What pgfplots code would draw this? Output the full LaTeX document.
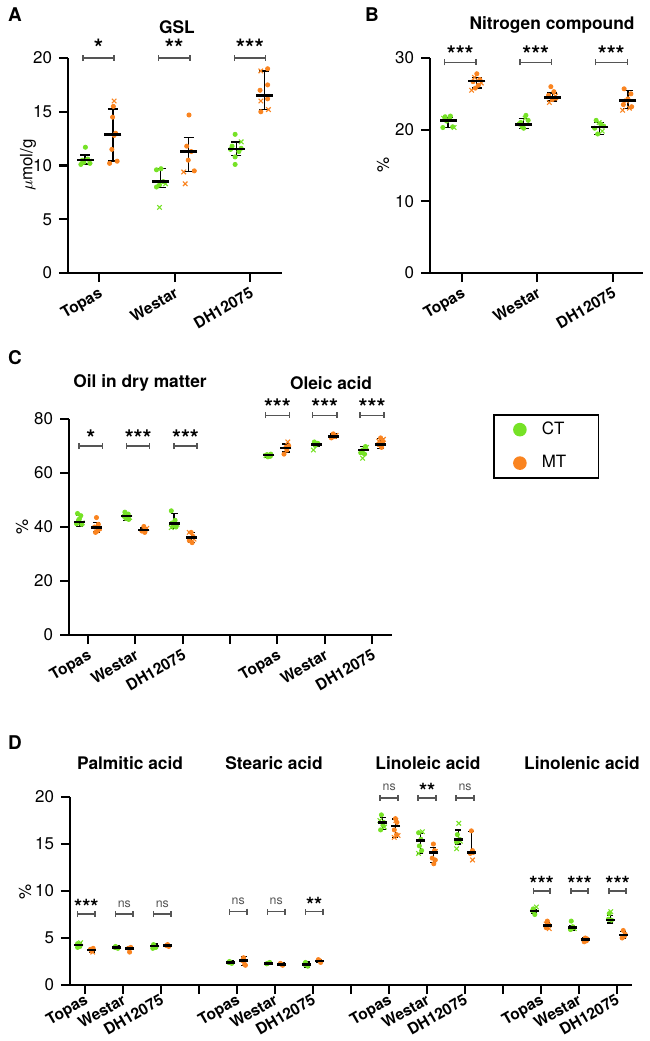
\documentclass[border=0pt]{standalone}
\usepackage{pgfplots}
\pgfplotsset{compat=1.18}
\usepackage{pgfplotstable}
\usepackage{fontspec}
\setmainfont{TeX Gyre Heros}
\usetikzlibrary{arrows.meta}

\definecolor{ctg}{RGB}{118,226,38}
\definecolor{mto}{RGB}{250,132,32}
\definecolor{sigc}{RGB}{85,85,85}
\newcommand\fs[1]{\fontsize{#1}{#1}\selectfont}

% mean and error bar of each group: x, mean, +err, -err
\pgfplotstableread{
x y ep em
-0.185 10.5 0.48 0.36
0.815 8.5 1.24 0.56
1.815 11.53 0.67 0.63
}\Act
\pgfplotstableread{
x y ep em
0.185 12.9 2.36 2.48
1.185 11.28 1.3 1.86
2.185 16.5 2.3 1.3
}\Amt
\pgfplotstableread{
x y ep em
-0.18 21.25 0.45 0.95
0.82 20.7 0.9 0.5
1.82 20.4 0.6 1.1
}\Bct
\pgfplotstableread{
x y ep em
0.2 26.8 0.5 1.0
1.2 24.5 0.6 0.5
2.2 24.1 1.4 1.1
}\Bmt
\pgfplotstableread{
x y ep em
-0.18 41.8 2.6 1.7
0.82 44.1 1.3 1.7
1.82 41.3 3.7 1.7
3.82 66.6 0.5 0.7
4.82 70.6 0.7 0.8
5.82 68.5 1.2 1.5
}\Cct
\pgfplotstableread{
x y ep em
0.18 39.8 1.9 1.7
1.18 38.9 0.7 0.9
2.18 36.1 1.9 1.9
4.18 69.2 1.6 1.4
5.18 73.6 0.8 0.8
6.18 70.6 2.2 1.5
}\Cmt
\pgfplotstableread{
x y ep em
-0.17 4.26 0.2 0.25
0.83 3.97 0.2 0.2
1.83 4.15 0.2 0.2
3.83 2.42 0.2 0.2
4.83 2.3 0.1 0.1
5.83 2.2 0.25 0.3
7.83 17.27 0.57 0.71
8.83 15.35 0.78 1.35
9.83 15.5 0.99 0.5
11.83 7.87 0.2 0.2
12.83 6.1 0.25 0.25
13.83 6.9 0.5 0.3
}\Dct
\pgfplotstableread{
x y ep em
0.17 3.72 0.2 0.2
1.17 3.9 0.15 0.15
2.17 4.2 0.12 0.12
4.17 2.6 0.4 0.5
5.17 2.2 0.15 0.15
6.17 2.55 0.15 0.15
8.17 16.91 0.75 1.2
9.17 14.11 0.54 1.06
10.17 14.08 2.27 0.1
12.17 6.31 0.35 0.3
13.17 4.86 0.2 0.2
14.17 5.32 0.35 0.35
}\Dmt

\pgfplotsset{
  panel/.style={
    scale only axis, anchor=south west,
    axis x line*=bottom, axis y line*=left,
    axis line style={line width=1.1pt, black},
    tick align=outside, major tick length=4.5bp,
    tick style={line width=1.1pt, black},
    yticklabel style={font=\fs{8.5}},
    xticklabel style={font=\fs{7.8}\bfseries, rotate=30, anchor=north east, inner sep=1.5bp},
    /pgf/number format/assume math mode=true,
    clip=false, enlargelimits=false,
  },
  ctdot/.style={only marks, mark=*, mark size=1.05bp, color=ctg},
  ctx/.style={only marks, mark=x, mark size=1.6bp, color=ctg, mark options={line width=0.55pt}},
  mtdot/.style={only marks, mark=*, mark size=1.05bp, color=mto},
  mtx/.style={only marks, mark=x, mark size=1.6bp, color=mto, mark options={line width=0.55pt}},
  meansd/.style 2 args={only marks, black, mark=-, mark size=#1,
    mark options={line width=1.3pt},
    /pgfplots/error bars/y dir=both, /pgfplots/error bars/y explicit,
    /pgfplots/error bars/error bar style={line width=0.65pt, black},
    /pgfplots/error bars/error mark options={rotate=90, mark size=#2, line width=0.65pt, black}},
}
\tikzset{
  sigline/.style={draw=sigc, line width=0.7pt, {Bar[width=3bp]}-{Bar[width=3bp]}},
  stA/.style={font=\fs{12}\bfseries, yshift=0.6bp},
  stC/.style={font=\fs{11.5}\bfseries, yshift=0bp},
  stD/.style={font=\fs{10.5}\bfseries, yshift=-0.3bp},
  nsD/.style={font=\fs{6.2}, text=sigc, yshift=3.5bp},
}
\newcommand\sigbar[5]{\draw[sigline] (axis cs:#1,#3) -- (axis cs:#2,#3) node[midway, anchor=base, inner sep=0pt, #4]{#5};}

\begin{document}
\begin{tikzpicture}
\path[use as bounding box] (0,0) rectangle (325bp,-520.5bp);

% ---------- A: GSL
\begin{axis}[panel, at={(34bp,-136.5bp)}, width=107bp, height=107.5bp,
  xmin=-0.41, xmax=2.42, ymin=0, ymax=20, ytick={0,5,10,15,20},
  xtick={0,1,2}, xticklabels={Topas,Westar,DH12075}]
\addplot[ctdot] coordinates {(-0.24,10.1) (-0.2,10.3) (-0.15,10.6) (-0.18,11.7) (-0.12,10.2) (-0.22,10.5)
  (0.76,9.6) (0.82,9.7) (0.8,8.2) (0.76,8.0) (0.85,8.5)
  (1.8,12.9) (1.76,11.8) (1.85,11.3) (1.74,11.5) (1.8,10.8) (1.8,10.1) (1.88,11.6)};
\addplot[ctx] coordinates {(-0.12,10.4) (0.8,6.1) (0.88,8.3) (1.88,12.2)};
\addplot[mtdot] coordinates {(0.19,15.5) (0.18,14.5) (0.22,13.0) (0.17,11.5) (0.24,10.4) (0.14,10.2) (0.2,12.8)
  (1.19,14.7) (1.16,11.8) (1.22,11.3) (1.26,9.5) (1.18,10.5)
  (2.23,19.0) (2.13,17.0) (2.23,17.5) (2.23,16.2) (2.14,15.0)};
\addplot[mtx] coordinates {(0.2,16.0) (1.12,9.4) (1.14,8.3) (2.14,18.8) (2.14,16.0) (2.24,15.2)};
\addplot[meansd={4.25bp}{2.5bp}] table[x=x, y=y, y error plus=ep, y error minus=em] {\Act};
\addplot[meansd={4.25bp}{2.5bp}] table[x=x, y=y, y error plus=ep, y error minus=em] {\Amt};
\sigbar{-0.22}{0.21}{20}{stA}{*}
\sigbar{0.78}{1.21}{20}{stA}{**}
\sigbar{1.78}{2.21}{20}{stA}{***}
\end{axis}

% ---------- B: Nitrogen compound
\begin{axis}[panel, at={(215bp,-136.5bp)}, width=106.5bp, height=107.5bp,
  xmin=-0.42, xmax=2.4, ymin=0, ymax=30, ytick={0,10,20,30},
  xtick={0,1,2}, xticklabels={Topas,Westar,DH12075}]
\addplot[ctdot] coordinates {(-0.22,21.8) (-0.15,21.9) (-0.25,20.3) (-0.12,20.4) (-0.2,21.2) (-0.16,21.5)
  (0.78,21.0) (0.85,22.0) (0.8,20.4) (0.76,20.8) (0.88,21.3) (0.82,20.2)
  (1.78,21.3) (1.84,20.8) (1.76,20.2) (1.8,19.4) (1.88,20.5)};
\addplot[ctx] coordinates {(-0.24,21.6) (-0.1,20.3) (0.84,21.6) (1.82,21.0) (1.86,19.8)};
\addplot[mtdot] coordinates {(0.2,27.8) (0.24,27.0) (0.15,26.7) (0.22,26.2) (0.18,25.8)
  (1.18,26.0) (1.22,25.3) (1.15,24.8) (1.25,24.4) (1.2,24.2)
  (2.15,25.7) (2.24,25.0) (2.2,24.3) (2.14,23.5) (2.25,23.2)};
\addplot[mtx] coordinates {(0.13,25.5) (0.26,26.5) (0.17,27.3) (1.16,23.8) (1.24,24.7) (2.13,22.7) (2.22,23.0) (2.18,24.0)};
\addplot[meansd={4.25bp}{2.5bp}] table[x=x, y=y, y error plus=ep, y error minus=em] {\Bct};
\addplot[meansd={4.25bp}{2.5bp}] table[x=x, y=y, y error plus=ep, y error minus=em] {\Bmt};
\sigbar{-0.24}{0.2}{29.4}{stC}{***}
\sigbar{0.76}{1.2}{29.4}{stC}{***}
\sigbar{1.76}{2.2}{29.4}{stC}{***}
\end{axis}

% ---------- C: oil and oleic acid
\begin{axis}[panel, at={(34.5bp,-317.5bp)}, width=161.5bp, height=108bp,
  xmin=-0.4, xmax=6.42, ymin=0, ymax=80, ytick={0,20,40,60,80},
  xtick={0,...,6}, xticklabels={Topas,Westar,DH12075,,Topas,Westar,DH12075},
  legend style={at={(1.313,1.023)}, anchor=north west, draw=black, line width=0.8pt,
    font=\fs{8.5}, inner xsep=10bp, inner ysep=1.5bp, row sep=5bp,
    /tikz/every odd column/.style={column sep=6bp}},
  legend cell align=left]
\addlegendimage{only marks, mark=*, mark size=3bp, color=ctg}
\addlegendimage{only marks, mark=*, mark size=3bp, color=mto}
\legend{CT\hspace*{4bp},MT\hspace*{4bp}}
\addplot[ctdot, forget plot] coordinates {(-0.22,45.0) (-0.15,44.2) (-0.2,42.5) (-0.13,41.0) (-0.24,41.2) (-0.18,43.0)
  (0.78,45.5) (0.85,44.8) (0.8,43.2) (0.86,42.8) (0.76,44.0)
  (1.76,46.0) (1.84,42.5) (1.8,40.5) (1.86,40.0) (1.78,41.5)
  (3.78,66.8) (3.85,66.2) (3.8,66.0) (3.86,67.0)
  (4.78,71.5) (4.85,71.0) (4.8,70.2) (4.86,70.8)
  (5.86,69.8) (5.8,68.5) (5.76,67.5) (5.84,67.0)};
\addplot[ctx, forget plot] coordinates {(-0.12,41.5) (0.88,43.5) (1.76,39.8) (1.88,41.0) (3.76,66.4) (4.76,68.5) (5.8,65.5) (5.88,69.5)};
\addplot[mtdot, forget plot] coordinates {(0.18,43.5) (0.22,41.0) (0.14,40.0) (0.2,38.5) (0.24,39.2) (0.16,38.0)
  (1.18,40.2) (1.22,39.0) (1.14,38.5) (1.2,38.0)
  (2.18,38.0) (2.22,36.5) (2.14,35.0) (2.2,34.2)
  (4.14,67.0) (4.2,68.5) (4.24,70.0) (4.18,69.5)
  (5.18,74.5) (5.22,73.5) (5.14,73.0)
  (6.18,73.0) (6.22,71.5) (6.14,70.5) (6.2,69.5)};
\addplot[mtx, forget plot] coordinates {(0.24,39.5) (1.24,39.5) (2.14,38.0) (2.24,35.5) (4.22,71.5) (5.24,74.0) (6.24,72.5) (6.14,71.8)};
\addplot[meansd={2.75bp}{1.8bp}, forget plot] table[x=x, y=y, y error plus=ep, y error minus=em] {\Cct};
\addplot[meansd={2.75bp}{1.8bp}, forget plot] table[x=x, y=y, y error plus=ep, y error minus=em] {\Cmt};
\sigbar{-0.2}{0.32}{70}{stC}{*}
\sigbar{0.8}{1.32}{70}{stC}{***}
\sigbar{1.8}{2.32}{70}{stC}{***}
\sigbar{3.73}{4.27}{81.4}{stC}{***}
\sigbar{4.73}{5.27}{81.4}{stC}{***}
\sigbar{5.73}{6.27}{81.4}{stC}{***}
\end{axis}

% ---------- D: fatty acids
\begin{axis}[panel, at={(35bp,-492.5bp)}, width=281bp, height=94bp,
  xmin=-0.4, xmax=14.4, ymin=0, ymax=20, ytick={0,5,10,15,20},
  xtick={0,...,14}, xticklabel style={inner sep=0.5bp, yshift=1.5bp},
  xticklabels={Topas,Westar,DH12075,,Topas,Westar,DH12075,,Topas,Westar,DH12075,,Topas,Westar,DH12075}]
\addplot[ctdot] coordinates {(-0.2,4.4) (-0.14,4.1) (-0.2,4.0) (-0.16,4.3)
  (0.8,4.1) (0.86,3.9) (0.78,4.0) (1.8,4.3) (1.86,4.0) (1.78,3.9)
  (3.8,2.5) (3.86,2.3) (3.78,2.4) (4.8,2.3) (4.86,2.4) (4.78,2.25) (5.8,2.4) (5.86,2.0) (5.78,2.2)
  (7.8,18.1) (7.86,17.3) (7.78,16.5) (7.84,17.0)
  (8.78,16.2) (8.84,15.5) (8.8,14.8) (8.86,14.3)
  (9.8,16.0) (9.86,15.5) (9.78,15.2)
  (11.8,8.1) (11.84,7.5) (11.78,7.9) (12.8,6.8) (12.84,6.2) (12.78,5.9) (13.8,7.6) (13.86,6.9) (13.78,7.0)};
\addplot[ctx] coordinates {(-0.12,4.5) (7.88,16.8) (7.76,17.5) (8.88,16.3) (8.78,14.0) (9.84,17.2) (9.78,14.5) (9.88,15.3)
  (11.88,8.3) (12.88,6.0) (13.84,7.8)};
\addplot[mtdot] coordinates {(0.17,3.6) (0.21,3.9) (0.14,3.8) (1.17,3.5) (1.2,4.0) (1.14,3.9) (2.17,4.3) (2.2,4.1) (2.14,4.2)
  (4.17,2.9) (4.2,2.2) (4.14,2.6) (4.22,2.1) (5.17,2.2) (5.2,2.1) (5.14,2.3) (6.17,2.6) (6.2,2.4) (6.14,2.7)
  (8.17,17.7) (8.21,17.3) (8.14,16.5) (8.2,16.0)
  (9.17,15.0) (9.2,14.3) (9.14,13.5) (9.22,13.3) (9.18,12.9)
  (10.17,16.4) (10.2,14.3) (10.14,14.0) (10.22,14.1)
  (12.17,6.8) (12.21,6.4) (12.14,6.1) (13.17,5.0) (13.2,4.7) (13.14,4.6) (13.22,4.9)
  (14.17,5.8) (14.2,5.2) (14.14,5.0) (14.22,5.4)};
\addplot[mtx] coordinates {(0.2,3.5) (8.14,15.7) (8.24,15.9) (8.18,17.5) (9.22,14.2) (10.2,13.3) (12.22,6.0) (12.14,6.5)};
\addplot[meansd={2.3bp}{1.5bp}] table[x=x, y=y, y error plus=ep, y error minus=em] {\Dct};
\addplot[meansd={2.3bp}{1.5bp}] table[x=x, y=y, y error plus=ep, y error minus=em] {\Dmt};
\sigbar{-0.22}{0.28}{7.55}{stD}{***}
\sigbar{0.78}{1.28}{7.55}{nsD}{ns}
\sigbar{1.78}{2.28}{7.55}{nsD}{ns}
\sigbar{3.78}{4.28}{7.8}{nsD}{ns}
\sigbar{4.78}{5.28}{7.8}{nsD}{ns}
\sigbar{5.78}{6.28}{7.8}{stD}{**}
\sigbar{7.75}{8.26}{19.9}{nsD}{ns}
\sigbar{8.75}{9.26}{19.9}{stD}{**}
\sigbar{9.75}{10.26}{19.9}{nsD}{ns}
\sigbar{11.78}{12.26}{10}{stD}{***}
\sigbar{12.78}{13.26}{10}{stD}{***}
\sigbar{13.78}{14.26}{10}{stD}{***}
\end{axis}

% ---------- titles, panel letters, y labels (positions in pixels of the reference)
\begin{scope}[x=0.5bp, y=-0.5bp]
\node[font=\fs{9.5}\bfseries] at (15,15) {A};
\node[font=\fs{9.5}\bfseries] at (372,15) {B};
\node[font=\fs{9.5}\bfseries] at (15,358) {C};
\node[font=\fs{9.5}\bfseries] at (15,743) {D};
\begin{scope}[every node/.style={font=\fs{8.7}\bfseries}]
\node at (177,27) {GSL};
\node at (552,25) {Nitrogen compound};
\node at (140,383) {Oil in dry matter};
\node at (331,383) {Oleic acid};
\node at (130,763) {Palmitic acid};
\node at (274,763) {Stearic acid};
\node at (428,763) {Linoleic acid};
\node at (582,763) {Linolenic acid};
\end{scope}
\begin{scope}[every node/.style={font=\fs{8.5}, rotate=90}]
\node at (28,165) {$\mu$mol/g};
\node at (383,165) {\%};
\node at (22,527) {\%};
\node at (25,892) {\%};
\end{scope}
\end{scope}
\end{tikzpicture}
\end{document}
